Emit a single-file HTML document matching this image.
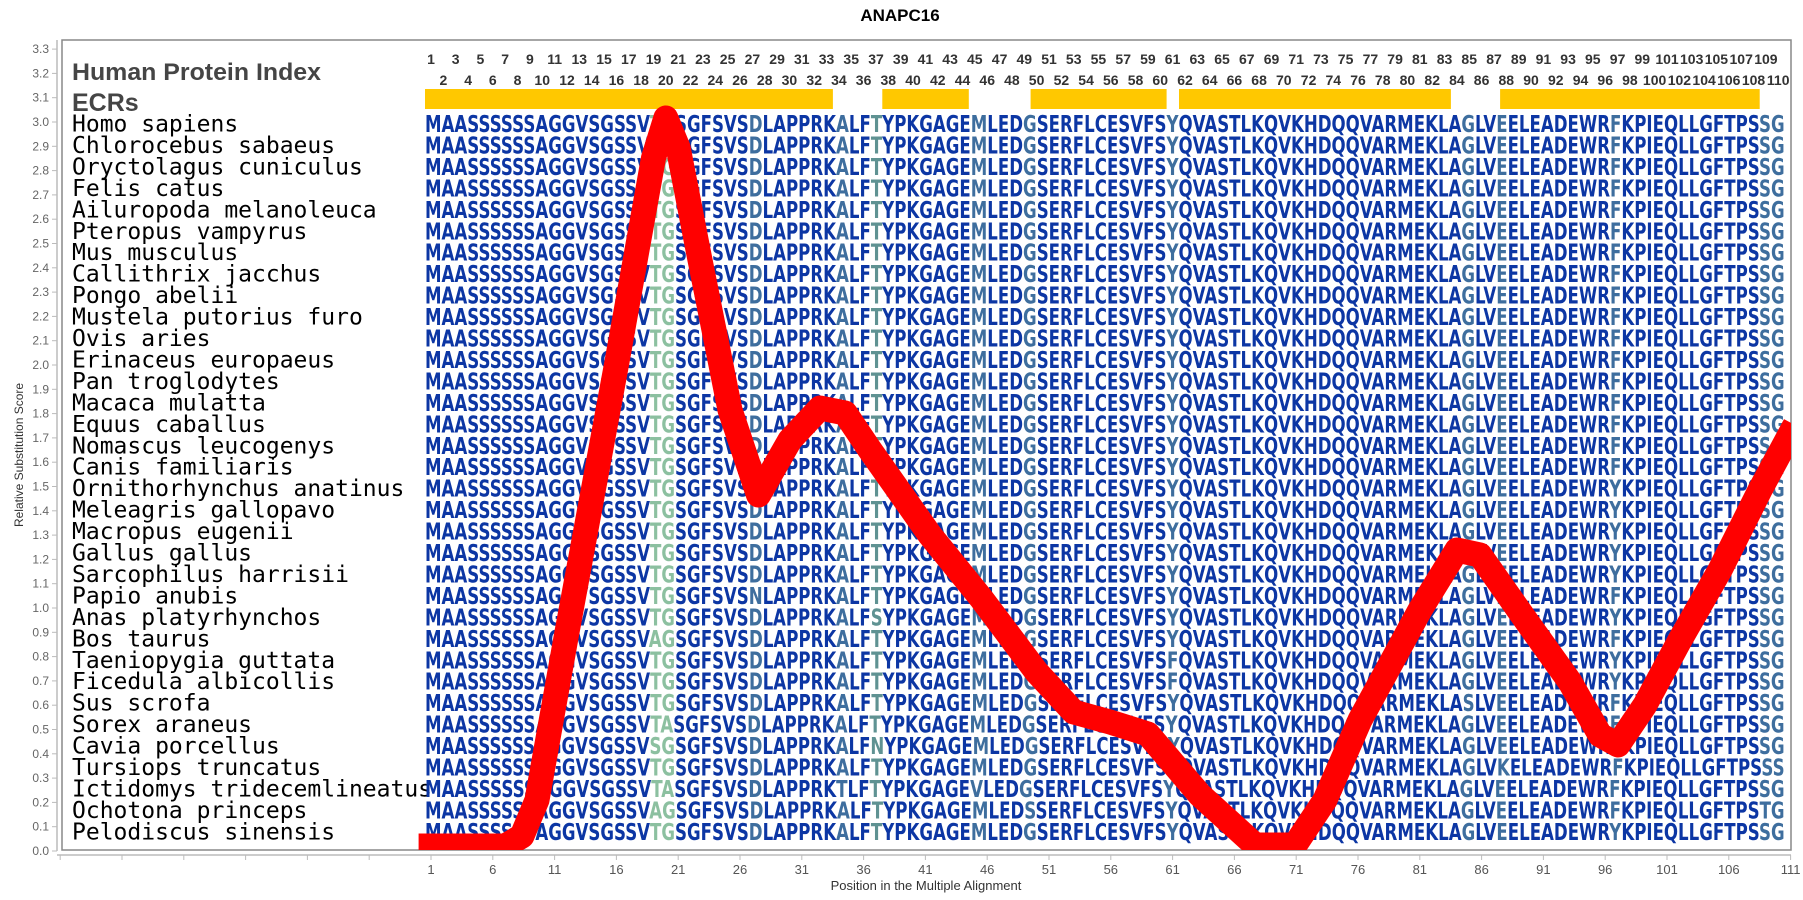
<!DOCTYPE html>
<html><head><meta charset="utf-8"><style>
html,body{margin:0;padding:0;background:#fff;}
svg{display:block;}
.sq{font-family:"DejaVu Sans","Liberation Sans",sans-serif;font-weight:bold;font-size:23px;fill:#0c36a4;}
.g{fill:#8cc0a0;} .s{fill:#3e6e9e;} .t{fill:#5f9292;}
.sp{font-family:"DejaVu Sans Mono","Liberation Mono",monospace;font-size:23px;fill:#000;}
.yl{font-family:"Liberation Sans",sans-serif;font-size:12px;fill:#666;text-anchor:end;}
.xl{font-family:"Liberation Sans",sans-serif;font-size:13px;fill:#555;text-anchor:middle;}
.nm{font-family:"Liberation Sans",sans-serif;font-size:14px;font-weight:bold;fill:#333;text-anchor:middle;}
</style></head><body>
<svg width="1803" height="900" viewBox="0 0 1803 900" xmlns="http://www.w3.org/2000/svg">
<defs><clipPath id="pc"><rect x="62" y="40" width="1729" height="810"/></clipPath></defs>
<text x="900" y="21" text-anchor="middle" font-family="Liberation Sans,sans-serif" font-weight="bold" font-size="17">ANAPC16</text>
<rect x="62" y="40" width="1729" height="810" fill="#fff" stroke="#888" stroke-width="1.5"/>
<line x1="57" y1="40" x2="57" y2="851" stroke="#bbb" stroke-width="1.5"/>
<line x1="57" y1="855" x2="1791" y2="855" stroke="#bbb" stroke-width="1.5"/>
<g stroke="#bbb" stroke-width="1">
<line x1="52" y1="851" x2="57" y2="851"/><line x1="52" y1="826.7" x2="57" y2="826.7"/><line x1="52" y1="802.4" x2="57" y2="802.4"/><line x1="52" y1="778.1" x2="57" y2="778.1"/><line x1="52" y1="753.8" x2="57" y2="753.8"/><line x1="52" y1="729.5" x2="57" y2="729.5"/><line x1="52" y1="705.2" x2="57" y2="705.2"/><line x1="52" y1="680.9" x2="57" y2="680.9"/><line x1="52" y1="656.6" x2="57" y2="656.6"/><line x1="52" y1="632.3" x2="57" y2="632.3"/><line x1="52" y1="608" x2="57" y2="608"/><line x1="52" y1="583.7" x2="57" y2="583.7"/><line x1="52" y1="559.4" x2="57" y2="559.4"/><line x1="52" y1="535.1" x2="57" y2="535.1"/><line x1="52" y1="510.8" x2="57" y2="510.8"/><line x1="52" y1="486.5" x2="57" y2="486.5"/><line x1="52" y1="462.2" x2="57" y2="462.2"/><line x1="52" y1="437.9" x2="57" y2="437.9"/><line x1="52" y1="413.6" x2="57" y2="413.6"/><line x1="52" y1="389.3" x2="57" y2="389.3"/><line x1="52" y1="365" x2="57" y2="365"/><line x1="52" y1="340.7" x2="57" y2="340.7"/><line x1="52" y1="316.4" x2="57" y2="316.4"/><line x1="52" y1="292.1" x2="57" y2="292.1"/><line x1="52" y1="267.8" x2="57" y2="267.8"/><line x1="52" y1="243.5" x2="57" y2="243.5"/><line x1="52" y1="219.2" x2="57" y2="219.2"/><line x1="52" y1="194.9" x2="57" y2="194.9"/><line x1="52" y1="170.6" x2="57" y2="170.6"/><line x1="52" y1="146.3" x2="57" y2="146.3"/><line x1="52" y1="122" x2="57" y2="122"/><line x1="52" y1="97.7" x2="57" y2="97.7"/><line x1="52" y1="73.4" x2="57" y2="73.4"/><line x1="52" y1="49.1" x2="57" y2="49.1"/>
</g>
<g class="yl">
<text x="49" y="855">0.0</text><text x="49" y="830.7">0.1</text><text x="49" y="806.4">0.2</text><text x="49" y="782.1">0.3</text><text x="49" y="757.8">0.4</text><text x="49" y="733.5">0.5</text><text x="49" y="709.2">0.6</text><text x="49" y="684.9">0.7</text><text x="49" y="660.6">0.8</text><text x="49" y="636.3">0.9</text><text x="49" y="612">1.0</text><text x="49" y="587.7">1.1</text><text x="49" y="563.4">1.2</text><text x="49" y="539.1">1.3</text><text x="49" y="514.8">1.4</text><text x="49" y="490.5">1.5</text><text x="49" y="466.2">1.6</text><text x="49" y="441.9">1.7</text><text x="49" y="417.6">1.8</text><text x="49" y="393.3">1.9</text><text x="49" y="369">2.0</text><text x="49" y="344.7">2.1</text><text x="49" y="320.4">2.2</text><text x="49" y="296.1">2.3</text><text x="49" y="271.8">2.4</text><text x="49" y="247.5">2.5</text><text x="49" y="223.2">2.6</text><text x="49" y="198.9">2.7</text><text x="49" y="174.6">2.8</text><text x="49" y="150.3">2.9</text><text x="49" y="126">3.0</text><text x="49" y="101.7">3.1</text><text x="49" y="77.4">3.2</text><text x="49" y="53.1">3.3</text>
</g>
<g stroke="#bbb" stroke-width="1">
<line x1="60.2" y1="855" x2="60.2" y2="860"/><line x1="122" y1="855" x2="122" y2="860"/><line x1="183.8" y1="855" x2="183.8" y2="860"/><line x1="245.6" y1="855" x2="245.6" y2="860"/><line x1="307.4" y1="855" x2="307.4" y2="860"/><line x1="369.2" y1="855" x2="369.2" y2="860"/><line x1="431" y1="855" x2="431" y2="860"/><line x1="492.8" y1="855" x2="492.8" y2="860"/><line x1="554.6" y1="855" x2="554.6" y2="860"/><line x1="616.4" y1="855" x2="616.4" y2="860"/><line x1="678.2" y1="855" x2="678.2" y2="860"/><line x1="740" y1="855" x2="740" y2="860"/><line x1="801.8" y1="855" x2="801.8" y2="860"/><line x1="863.6" y1="855" x2="863.6" y2="860"/><line x1="925.4" y1="855" x2="925.4" y2="860"/><line x1="987.2" y1="855" x2="987.2" y2="860"/><line x1="1049" y1="855" x2="1049" y2="860"/><line x1="1110.8" y1="855" x2="1110.8" y2="860"/><line x1="1172.6" y1="855" x2="1172.6" y2="860"/><line x1="1234.4" y1="855" x2="1234.4" y2="860"/><line x1="1296.2" y1="855" x2="1296.2" y2="860"/><line x1="1358" y1="855" x2="1358" y2="860"/><line x1="1419.8" y1="855" x2="1419.8" y2="860"/><line x1="1481.6" y1="855" x2="1481.6" y2="860"/><line x1="1543.4" y1="855" x2="1543.4" y2="860"/><line x1="1605.2" y1="855" x2="1605.2" y2="860"/><line x1="1667" y1="855" x2="1667" y2="860"/><line x1="1728.8" y1="855" x2="1728.8" y2="860"/><line x1="1790.6" y1="855" x2="1790.6" y2="860"/>
</g>
<g class="xl">
<text x="431" y="874">1</text><text x="492.8" y="874">6</text><text x="554.6" y="874">11</text><text x="616.4" y="874">16</text><text x="678.2" y="874">21</text><text x="740" y="874">26</text><text x="801.8" y="874">31</text><text x="863.6" y="874">36</text><text x="925.4" y="874">41</text><text x="987.2" y="874">46</text><text x="1049" y="874">51</text><text x="1110.8" y="874">56</text><text x="1172.6" y="874">61</text><text x="1234.4" y="874">66</text><text x="1296.2" y="874">71</text><text x="1358" y="874">76</text><text x="1419.8" y="874">81</text><text x="1481.6" y="874">86</text><text x="1543.4" y="874">91</text><text x="1605.2" y="874">96</text><text x="1667" y="874">101</text><text x="1728.8" y="874">106</text><text x="1790.6" y="874">111</text>
</g>
<text x="926" y="890" class="xl" style="fill:#333">Position in the Multiple Alignment</text>
<text transform="translate(23,455) rotate(-90)" text-anchor="middle" font-family="Liberation Sans,sans-serif" font-size="12" fill="#333">Relative Substitution Score</text>

<text x="72" y="80" font-family="Liberation Sans,sans-serif" font-weight="bold" font-size="24" fill="#454545" textLength="249" lengthAdjust="spacingAndGlyphs">Human Protein Index</text>
<text x="72" y="111" font-family="Liberation Sans,sans-serif" font-weight="bold" font-size="25" fill="#454545">ECRs</text>

<g fill="#ffc800">
<rect x="425" y="89" width="407.9" height="20"/>
<rect x="882.3" y="89" width="86.5" height="20"/>
<rect x="1030.6" y="89" width="136" height="20"/>
<rect x="1179" y="89" width="271.9" height="20"/>
<rect x="1500.1" y="89" width="259.6" height="20"/>
</g>

<g class="nm">
<text x="431" y="64">1</text><text x="455.7" y="64">3</text><text x="480.4" y="64">5</text><text x="505.2" y="64">7</text><text x="529.9" y="64">9</text><text x="554.6" y="64">11</text><text x="579.3" y="64">13</text><text x="604" y="64">15</text><text x="628.8" y="64">17</text><text x="653.5" y="64">19</text><text x="678.2" y="64">21</text><text x="702.9" y="64">23</text><text x="727.6" y="64">25</text><text x="752.4" y="64">27</text><text x="777.1" y="64">29</text><text x="801.8" y="64">31</text><text x="826.5" y="64">33</text><text x="851.2" y="64">35</text><text x="876" y="64">37</text><text x="900.7" y="64">39</text><text x="925.4" y="64">41</text><text x="950.1" y="64">43</text><text x="974.8" y="64">45</text><text x="999.6" y="64">47</text><text x="1024.3" y="64">49</text><text x="1049" y="64">51</text><text x="1073.7" y="64">53</text><text x="1098.4" y="64">55</text><text x="1123.2" y="64">57</text><text x="1147.9" y="64">59</text><text x="1172.6" y="64">61</text><text x="1197.3" y="64">63</text><text x="1222" y="64">65</text><text x="1246.8" y="64">67</text><text x="1271.5" y="64">69</text><text x="1296.2" y="64">71</text><text x="1320.9" y="64">73</text><text x="1345.6" y="64">75</text><text x="1370.4" y="64">77</text><text x="1395.1" y="64">79</text><text x="1419.8" y="64">81</text><text x="1444.5" y="64">83</text><text x="1469.2" y="64">85</text><text x="1494" y="64">87</text><text x="1518.7" y="64">89</text><text x="1543.4" y="64">91</text><text x="1568.1" y="64">93</text><text x="1592.8" y="64">95</text><text x="1617.6" y="64">97</text><text x="1642.3" y="64">99</text><text x="1667" y="64">101</text><text x="1691.7" y="64">103</text><text x="1716.4" y="64">105</text><text x="1741.2" y="64">107</text><text x="1765.9" y="64">109</text>
<text x="443.4" y="85">2</text><text x="468.1" y="85">4</text><text x="492.8" y="85">6</text><text x="517.5" y="85">8</text><text x="542.2" y="85">10</text><text x="567" y="85">12</text><text x="591.7" y="85">14</text><text x="616.4" y="85">16</text><text x="641.1" y="85">18</text><text x="665.8" y="85">20</text><text x="690.6" y="85">22</text><text x="715.3" y="85">24</text><text x="740" y="85">26</text><text x="764.7" y="85">28</text><text x="789.4" y="85">30</text><text x="814.2" y="85">32</text><text x="838.9" y="85">34</text><text x="863.6" y="85">36</text><text x="888.3" y="85">38</text><text x="913" y="85">40</text><text x="937.8" y="85">42</text><text x="962.5" y="85">44</text><text x="987.2" y="85">46</text><text x="1011.9" y="85">48</text><text x="1036.6" y="85">50</text><text x="1061.4" y="85">52</text><text x="1086.1" y="85">54</text><text x="1110.8" y="85">56</text><text x="1135.5" y="85">58</text><text x="1160.2" y="85">60</text><text x="1185" y="85">62</text><text x="1209.7" y="85">64</text><text x="1234.4" y="85">66</text><text x="1259.1" y="85">68</text><text x="1283.8" y="85">70</text><text x="1308.6" y="85">72</text><text x="1333.3" y="85">74</text><text x="1358" y="85">76</text><text x="1382.7" y="85">78</text><text x="1407.4" y="85">80</text><text x="1432.2" y="85">82</text><text x="1456.9" y="85">84</text><text x="1481.6" y="85">86</text><text x="1506.3" y="85">88</text><text x="1531" y="85">90</text><text x="1555.8" y="85">92</text><text x="1580.5" y="85">94</text><text x="1605.2" y="85">96</text><text x="1629.9" y="85">98</text><text x="1654.6" y="85">100</text><text x="1679.4" y="85">102</text><text x="1704.1" y="85">104</text><text x="1728.8" y="85">106</text><text x="1753.5" y="85">108</text><text x="1778.2" y="85">110</text>
</g>

<g class="sp">
<text x="72" y="131.5">Homo sapiens</text>
<text x="72" y="153">Chlorocebus sabaeus</text>
<text x="72" y="174.4">Oryctolagus cuniculus</text>
<text x="72" y="195.9">Felis catus</text>
<text x="72" y="217.3">Ailuropoda melanoleuca</text>
<text x="72" y="238.8">Pteropus vampyrus</text>
<text x="72" y="260.2">Mus musculus</text>
<text x="72" y="281.7">Callithrix jacchus</text>
<text x="72" y="303.1">Pongo abelii</text>
<text x="72" y="324.6">Mustela putorius furo</text>
<text x="72" y="346">Ovis aries</text>
<text x="72" y="367.5">Erinaceus europaeus</text>
<text x="72" y="388.9">Pan troglodytes</text>
<text x="72" y="410.4">Macaca mulatta</text>
<text x="72" y="431.8">Equus caballus</text>
<text x="72" y="453.3">Nomascus leucogenys</text>
<text x="72" y="474.7">Canis familiaris</text>
<text x="72" y="496.2">Ornithorhynchus anatinus</text>
<text x="72" y="517.6">Meleagris gallopavo</text>
<text x="72" y="539.1">Macropus eugenii</text>
<text x="72" y="560.5">Gallus gallus</text>
<text x="72" y="582">Sarcophilus harrisii</text>
<text x="72" y="603.4">Papio anubis</text>
<text x="72" y="624.9">Anas platyrhynchos</text>
<text x="72" y="646.3">Bos taurus</text>
<text x="72" y="667.8">Taeniopygia guttata</text>
<text x="72" y="689.2">Ficedula albicollis</text>
<text x="72" y="710.7">Sus scrofa</text>
<text x="72" y="732.1">Sorex araneus</text>
<text x="72" y="753.6">Cavia porcellus</text>
<text x="72" y="775">Tursiops truncatus</text>
<text x="72" y="796.5">Ictidomys tridecemlineatus</text>
<text x="72" y="817.9">Ochotona princeps</text>
<text x="72" y="839.4">Pelodiscus sinensis</text>
</g>

<g class="sq">
<text x="425" y="132" textLength="1359.6" lengthAdjust="spacingAndGlyphs">MAASSSSSSAGGVSGSSV<tspan class="g">TG</tspan>SGFSVS<tspan class="s">D</tspan>LAPPRK<tspan class="s">A</tspan>LF<tspan class="t">T</tspan>YPKGAGE<tspan class="s">M</tspan>LED<tspan class="s">G</tspan>SERFLCESVFS<tspan class="s">Y</tspan>QVASTLKQVKHDQQVARMEKLA<tspan class="s">G</tspan>LV<tspan class="s">E</tspan>ELEADEWR<tspan class="s">F</tspan>KPIEQLLGFTPS<tspan class="s">SG</tspan></text>
<text x="425" y="153.5" textLength="1359.6" lengthAdjust="spacingAndGlyphs">MAASSSSSSAGGVSGSSV<tspan class="g">TG</tspan>SGFSVS<tspan class="s">D</tspan>LAPPRK<tspan class="s">A</tspan>LF<tspan class="t">T</tspan>YPKGAGE<tspan class="s">M</tspan>LED<tspan class="s">G</tspan>SERFLCESVFS<tspan class="s">Y</tspan>QVASTLKQVKHDQQVARMEKLA<tspan class="s">G</tspan>LV<tspan class="s">E</tspan>ELEADEWR<tspan class="s">F</tspan>KPIEQLLGFTPS<tspan class="s">SG</tspan></text>
<text x="425" y="174.9" textLength="1359.6" lengthAdjust="spacingAndGlyphs">MAASSSSSSAGGVSGSSV<tspan class="g">TG</tspan>SGFSVS<tspan class="s">D</tspan>LAPPRK<tspan class="s">A</tspan>LF<tspan class="t">T</tspan>YPKGAGE<tspan class="s">M</tspan>LED<tspan class="s">G</tspan>SERFLCESVFS<tspan class="s">Y</tspan>QVASTLKQVKHDQQVARMEKLA<tspan class="s">G</tspan>LV<tspan class="s">E</tspan>ELEADEWR<tspan class="s">F</tspan>KPIEQLLGFTPS<tspan class="s">SG</tspan></text>
<text x="425" y="196.4" textLength="1359.6" lengthAdjust="spacingAndGlyphs">MAASSSSSSAGGVSGSSV<tspan class="g">TG</tspan>SGFSVS<tspan class="s">D</tspan>LAPPRK<tspan class="s">A</tspan>LF<tspan class="t">T</tspan>YPKGAGE<tspan class="s">M</tspan>LED<tspan class="s">G</tspan>SERFLCESVFS<tspan class="s">Y</tspan>QVASTLKQVKHDQQVARMEKLA<tspan class="s">G</tspan>LV<tspan class="s">E</tspan>ELEADEWR<tspan class="s">F</tspan>KPIEQLLGFTPS<tspan class="s">SG</tspan></text>
<text x="425" y="217.8" textLength="1359.6" lengthAdjust="spacingAndGlyphs">MAASSSSSSAGGVSGSSV<tspan class="g">TG</tspan>SGFSVS<tspan class="s">D</tspan>LAPPRK<tspan class="s">A</tspan>LF<tspan class="t">T</tspan>YPKGAGE<tspan class="s">M</tspan>LED<tspan class="s">G</tspan>SERFLCESVFS<tspan class="s">Y</tspan>QVASTLKQVKHDQQVARMEKLA<tspan class="s">G</tspan>LV<tspan class="s">E</tspan>ELEADEWR<tspan class="s">F</tspan>KPIEQLLGFTPS<tspan class="s">SG</tspan></text>
<text x="425" y="239.3" textLength="1359.6" lengthAdjust="spacingAndGlyphs">MAASSSSSSAGGVSGSSV<tspan class="g">TG</tspan>SGFSVS<tspan class="s">D</tspan>LAPPRK<tspan class="s">A</tspan>LF<tspan class="t">T</tspan>YPKGAGE<tspan class="s">M</tspan>LED<tspan class="s">G</tspan>SERFLCESVFS<tspan class="s">Y</tspan>QVASTLKQVKHDQQVARMEKLA<tspan class="s">G</tspan>LV<tspan class="s">E</tspan>ELEADEWR<tspan class="s">F</tspan>KPIEQLLGFTPS<tspan class="s">SG</tspan></text>
<text x="425" y="260.7" textLength="1359.6" lengthAdjust="spacingAndGlyphs">MAASSSSSSAGGVSGSSV<tspan class="g">TG</tspan>SGFSVS<tspan class="s">D</tspan>LAPPRK<tspan class="s">A</tspan>LF<tspan class="t">T</tspan>YPKGAGE<tspan class="s">M</tspan>LED<tspan class="s">G</tspan>SERFLCESVFS<tspan class="s">Y</tspan>QVASTLKQVKHDQQVARMEKLA<tspan class="s">G</tspan>LV<tspan class="s">E</tspan>ELEADEWR<tspan class="s">F</tspan>KPIEQLLGFTPS<tspan class="s">SG</tspan></text>
<text x="425" y="282.2" textLength="1359.6" lengthAdjust="spacingAndGlyphs">MAASSSSSSAGGVSGSSV<tspan class="g">TG</tspan>SGFSVS<tspan class="s">D</tspan>LAPPRK<tspan class="s">A</tspan>LF<tspan class="t">T</tspan>YPKGAGE<tspan class="s">M</tspan>LED<tspan class="s">G</tspan>SERFLCESVFS<tspan class="s">Y</tspan>QVASTLKQVKHDQQVARMEKLA<tspan class="s">G</tspan>LV<tspan class="s">E</tspan>ELEADEWR<tspan class="s">F</tspan>KPIEQLLGFTPS<tspan class="s">SG</tspan></text>
<text x="425" y="303.6" textLength="1359.6" lengthAdjust="spacingAndGlyphs">MAASSSSSSAGGVSGSSV<tspan class="g">TG</tspan>SGFSVS<tspan class="s">D</tspan>LAPPRK<tspan class="s">A</tspan>LF<tspan class="t">T</tspan>YPKGAGE<tspan class="s">M</tspan>LED<tspan class="s">G</tspan>SERFLCESVFS<tspan class="s">Y</tspan>QVASTLKQVKHDQQVARMEKLA<tspan class="s">G</tspan>LV<tspan class="s">E</tspan>ELEADEWR<tspan class="s">F</tspan>KPIEQLLGFTPS<tspan class="s">SG</tspan></text>
<text x="425" y="325.1" textLength="1359.6" lengthAdjust="spacingAndGlyphs">MAASSSSSSAGGVSGSSV<tspan class="g">TG</tspan>SGFSVS<tspan class="s">D</tspan>LAPPRK<tspan class="s">A</tspan>LF<tspan class="t">T</tspan>YPKGAGE<tspan class="s">M</tspan>LED<tspan class="s">G</tspan>SERFLCESVFS<tspan class="s">Y</tspan>QVASTLKQVKHDQQVARMEKLA<tspan class="s">G</tspan>LV<tspan class="s">E</tspan>ELEADEWR<tspan class="s">F</tspan>KPIEQLLGFTPS<tspan class="s">SG</tspan></text>
<text x="425" y="346.5" textLength="1359.6" lengthAdjust="spacingAndGlyphs">MAASSSSSSAGGVSGSSV<tspan class="g">TG</tspan>SGFSVS<tspan class="s">D</tspan>LAPPRK<tspan class="s">A</tspan>LF<tspan class="t">T</tspan>YPKGAGE<tspan class="s">M</tspan>LED<tspan class="s">G</tspan>SERFLCESVFS<tspan class="s">Y</tspan>QVASTLKQVKHDQQVARMEKLA<tspan class="s">G</tspan>LV<tspan class="s">E</tspan>ELEADEWR<tspan class="s">F</tspan>KPIEQLLGFTPS<tspan class="s">SG</tspan></text>
<text x="425" y="368" textLength="1359.6" lengthAdjust="spacingAndGlyphs">MAASSSSSSAGGVSGSSV<tspan class="g">TG</tspan>SGFSVS<tspan class="s">D</tspan>LAPPRK<tspan class="s">A</tspan>LF<tspan class="t">T</tspan>YPKGAGE<tspan class="s">M</tspan>LED<tspan class="s">G</tspan>SERFLCESVFS<tspan class="s">Y</tspan>QVASTLKQVKHDQQVARMEKLA<tspan class="s">G</tspan>LV<tspan class="s">E</tspan>ELEADEWR<tspan class="s">F</tspan>KPIEQLLGFTPS<tspan class="s">SG</tspan></text>
<text x="425" y="389.4" textLength="1359.6" lengthAdjust="spacingAndGlyphs">MAASSSSSSAGGVSGSSV<tspan class="g">TG</tspan>SGFSVS<tspan class="s">D</tspan>LAPPRK<tspan class="s">A</tspan>LF<tspan class="t">T</tspan>YPKGAGE<tspan class="s">M</tspan>LED<tspan class="s">G</tspan>SERFLCESVFS<tspan class="s">Y</tspan>QVASTLKQVKHDQQVARMEKLA<tspan class="s">G</tspan>LV<tspan class="s">E</tspan>ELEADEWR<tspan class="s">F</tspan>KPIEQLLGFTPS<tspan class="s">SG</tspan></text>
<text x="425" y="410.9" textLength="1359.6" lengthAdjust="spacingAndGlyphs">MAASSSSSSAGGVSGSSV<tspan class="g">TG</tspan>SGFSVS<tspan class="s">D</tspan>LAPPRK<tspan class="s">A</tspan>LF<tspan class="t">T</tspan>YPKGAGE<tspan class="s">M</tspan>LED<tspan class="s">G</tspan>SERFLCESVFS<tspan class="s">Y</tspan>QVASTLKQVKHDQQVARMEKLA<tspan class="s">G</tspan>LV<tspan class="s">E</tspan>ELEADEWR<tspan class="s">F</tspan>KPIEQLLGFTPS<tspan class="s">SG</tspan></text>
<text x="425" y="432.3" textLength="1359.6" lengthAdjust="spacingAndGlyphs">MAASSSSSSAGGVSGSSV<tspan class="g">TG</tspan>SGFSVS<tspan class="s">D</tspan>LAPPRK<tspan class="s">A</tspan>LF<tspan class="t">T</tspan>YPKGAGE<tspan class="s">M</tspan>LED<tspan class="s">G</tspan>SERFLCESVFS<tspan class="s">Y</tspan>QVASTLKQVKHDQQVARMEKLA<tspan class="s">G</tspan>LV<tspan class="s">E</tspan>ELEADEWR<tspan class="s">F</tspan>KPIEQLLGFTPS<tspan class="s">SG</tspan></text>
<text x="425" y="453.8" textLength="1359.6" lengthAdjust="spacingAndGlyphs">MAASSSSSSAGGVSGSSV<tspan class="g">TG</tspan>SGFSVS<tspan class="s">D</tspan>LAPPRK<tspan class="s">A</tspan>LF<tspan class="t">T</tspan>YPKGAGE<tspan class="s">M</tspan>LED<tspan class="s">G</tspan>SERFLCESVFS<tspan class="s">Y</tspan>QVASTLKQVKHDQQVARMEKLA<tspan class="s">G</tspan>LV<tspan class="s">E</tspan>ELEADEWR<tspan class="s">F</tspan>KPIEQLLGFTPS<tspan class="s">SG</tspan></text>
<text x="425" y="475.2" textLength="1359.6" lengthAdjust="spacingAndGlyphs">MAASSSSSSAGGVSGSSV<tspan class="g">TG</tspan>SGFSVS<tspan class="s">D</tspan>LAPPRK<tspan class="s">A</tspan>LF<tspan class="t">T</tspan>YPKGAGE<tspan class="s">M</tspan>LED<tspan class="s">G</tspan>SERFLCESVFS<tspan class="s">Y</tspan>QVASTLKQVKHDQQVARMEKLA<tspan class="s">G</tspan>LV<tspan class="s">E</tspan>ELEADEWR<tspan class="s">F</tspan>KPIEQLLGFTPS<tspan class="s">SG</tspan></text>
<text x="425" y="496.7" textLength="1359.6" lengthAdjust="spacingAndGlyphs">MAASSSSSSAGGVSGSSV<tspan class="g">TG</tspan>SGFSVS<tspan class="s">D</tspan>LAPPRK<tspan class="s">A</tspan>LF<tspan class="t">T</tspan>YPKGAGE<tspan class="s">M</tspan>LED<tspan class="s">G</tspan>SERFLCESVFS<tspan class="s">Y</tspan>QVASTLKQVKHDQQVARMEKLA<tspan class="s">G</tspan>LV<tspan class="s">E</tspan>ELEADEWR<tspan class="s">Y</tspan>KPIEQLLGFTPS<tspan class="s">SG</tspan></text>
<text x="425" y="518.1" textLength="1359.6" lengthAdjust="spacingAndGlyphs">MAASSSSSSAGGVSGSSV<tspan class="g">TG</tspan>SGFSVS<tspan class="s">D</tspan>LAPPRK<tspan class="s">A</tspan>LF<tspan class="t">T</tspan>YPKGAGE<tspan class="s">M</tspan>LED<tspan class="s">G</tspan>SERFLCESVFS<tspan class="s">Y</tspan>QVASTLKQVKHDQQVARMEKLA<tspan class="s">G</tspan>LV<tspan class="s">E</tspan>ELEADEWR<tspan class="s">Y</tspan>KPIEQLLGFTPS<tspan class="s">SG</tspan></text>
<text x="425" y="539.6" textLength="1359.6" lengthAdjust="spacingAndGlyphs">MAASSSSSSAGGVSGSSV<tspan class="g">TG</tspan>SGFSVS<tspan class="s">D</tspan>LAPPRK<tspan class="s">A</tspan>LF<tspan class="t">T</tspan>YPKGAGE<tspan class="s">M</tspan>LED<tspan class="s">G</tspan>SERFLCESVFS<tspan class="s">Y</tspan>QVASTLKQVKHDQQVARMEKLA<tspan class="s">G</tspan>LV<tspan class="s">E</tspan>ELEADEWR<tspan class="s">Y</tspan>KPIEQLLGFTPS<tspan class="s">SG</tspan></text>
<text x="425" y="561" textLength="1359.6" lengthAdjust="spacingAndGlyphs">MAASSSSSSAGGVSGSSV<tspan class="g">TG</tspan>SGFSVS<tspan class="s">D</tspan>LAPPRK<tspan class="s">A</tspan>LF<tspan class="t">T</tspan>YPKGAGE<tspan class="s">M</tspan>LED<tspan class="s">G</tspan>SERFLCESVFS<tspan class="s">Y</tspan>QVASTLKQVKHDQQVARMEKLA<tspan class="s">G</tspan>LV<tspan class="s">E</tspan>ELEADEWR<tspan class="s">Y</tspan>KPIEQLLGFTPS<tspan class="s">SG</tspan></text>
<text x="425" y="582.5" textLength="1359.6" lengthAdjust="spacingAndGlyphs">MAASSSSSSAGGVSGSSV<tspan class="g">TG</tspan>SGFSVS<tspan class="s">D</tspan>LAPPRK<tspan class="s">A</tspan>LF<tspan class="t">T</tspan>YPKGAGE<tspan class="s">M</tspan>LED<tspan class="s">G</tspan>SERFLCESVFS<tspan class="s">Y</tspan>QVASTLKQVKHDQQVARMEKLA<tspan class="s">G</tspan>LV<tspan class="s">E</tspan>ELEADEWR<tspan class="s">Y</tspan>KPIEQLLGFTPS<tspan class="s">SG</tspan></text>
<text x="425" y="603.9" textLength="1359.6" lengthAdjust="spacingAndGlyphs">MAASSSSSSAGGVSGSSV<tspan class="g">TG</tspan>SGFSVS<tspan class="s">N</tspan>LAPPRK<tspan class="s">A</tspan>LF<tspan class="t">T</tspan>YPKGAGE<tspan class="s">M</tspan>LED<tspan class="s">G</tspan>SERFLCESVFS<tspan class="s">Y</tspan>QVASTLKQVKHDQQVARMEKLA<tspan class="s">G</tspan>LV<tspan class="s">E</tspan>ELEADEWR<tspan class="s">F</tspan>KPIEQLLGFTPS<tspan class="s">SG</tspan></text>
<text x="425" y="625.4" textLength="1359.6" lengthAdjust="spacingAndGlyphs">MAASSSSSSAGGVSGSSV<tspan class="g">TG</tspan>SGFSVS<tspan class="s">D</tspan>LAPPRK<tspan class="s">A</tspan>LF<tspan class="t">S</tspan>YPKGAGE<tspan class="s">M</tspan>LED<tspan class="s">G</tspan>SERFLCESVFS<tspan class="s">Y</tspan>QVASTLKQVKHDQQVARMEKLA<tspan class="s">G</tspan>LV<tspan class="s">E</tspan>ELEADEWR<tspan class="s">Y</tspan>KPIEQLLGFTPS<tspan class="s">SG</tspan></text>
<text x="425" y="646.8" textLength="1359.6" lengthAdjust="spacingAndGlyphs">MAASSSSSSAGGVSGSSV<tspan class="g">AG</tspan>SGFSVS<tspan class="s">D</tspan>LAPPRK<tspan class="s">A</tspan>LF<tspan class="t">T</tspan>YPKGAGE<tspan class="s">M</tspan>LED<tspan class="s">G</tspan>SERFLCESVFS<tspan class="s">Y</tspan>QVASTLKQVKHDQQVARMEKLA<tspan class="s">G</tspan>LV<tspan class="s">E</tspan>ELEADEWR<tspan class="s">F</tspan>KPIEQLLGFTPS<tspan class="s">SG</tspan></text>
<text x="425" y="668.3" textLength="1359.6" lengthAdjust="spacingAndGlyphs">MAASSSSSSAGGVSGSSV<tspan class="g">TG</tspan>SGFSVS<tspan class="s">D</tspan>LAPPRK<tspan class="s">A</tspan>LF<tspan class="t">T</tspan>YPKGAGE<tspan class="s">M</tspan>LED<tspan class="s">G</tspan>SERFLCESVFS<tspan class="s">F</tspan>QVASTLKQVKHDQQVARMEKLA<tspan class="s">G</tspan>LV<tspan class="s">E</tspan>ELEADEWR<tspan class="s">Y</tspan>KPIEQLLGFTPS<tspan class="s">SG</tspan></text>
<text x="425" y="689.7" textLength="1359.6" lengthAdjust="spacingAndGlyphs">MAASSSSSSAGGVSGSSV<tspan class="g">TG</tspan>SGFSVS<tspan class="s">D</tspan>LAPPRK<tspan class="s">A</tspan>LF<tspan class="t">T</tspan>YPKGAGE<tspan class="s">M</tspan>LED<tspan class="s">G</tspan>SERFLCESVFS<tspan class="s">F</tspan>QVASTLKQVKHDQQVARMEKLA<tspan class="s">G</tspan>LV<tspan class="s">E</tspan>ELEADEWR<tspan class="s">Y</tspan>KPIEQLLGFTPS<tspan class="s">SG</tspan></text>
<text x="425" y="711.2" textLength="1359.6" lengthAdjust="spacingAndGlyphs">MAASSSSSSAGGVSGSSV<tspan class="g">TG</tspan>SGFSVS<tspan class="s">D</tspan>LAPPRK<tspan class="s">A</tspan>LF<tspan class="t">T</tspan>YPKGAGE<tspan class="s">M</tspan>LED<tspan class="s">G</tspan>SERFLCESVFS<tspan class="s">Y</tspan>QVASTLKQVKHDQQVARMEKLA<tspan class="s">S</tspan>LV<tspan class="s">E</tspan>ELEADEWR<tspan class="s">F</tspan>KPIEQLLGFTPS<tspan class="s">SG</tspan></text>
<text x="425" y="732.6" textLength="1359.6" lengthAdjust="spacingAndGlyphs">MAASSSSSSAGGVSGSSV<tspan class="g">TA</tspan>SGFSVS<tspan class="s">D</tspan>LAPPRK<tspan class="s">A</tspan>LF<tspan class="t">T</tspan>YPKGAGE<tspan class="s">M</tspan>LED<tspan class="s">G</tspan>SERFLCESVFS<tspan class="s">Y</tspan>QVASTLKQVKHDQQVARMEKLA<tspan class="s">G</tspan>LV<tspan class="s">E</tspan>ELEADEWR<tspan class="s">F</tspan>KPIEQLLGFTPS<tspan class="s">SG</tspan></text>
<text x="425" y="754.1" textLength="1359.6" lengthAdjust="spacingAndGlyphs">MAASSSSSSAGGVSGSSV<tspan class="g">SG</tspan>SGFSVS<tspan class="s">D</tspan>LAPPRK<tspan class="s">A</tspan>LF<tspan class="t">N</tspan>YPKGAGE<tspan class="s">M</tspan>LED<tspan class="s">G</tspan>SERFLCESVFS<tspan class="s">Y</tspan>QVASTLKQVKHDQQVARMEKLA<tspan class="s">G</tspan>LV<tspan class="s">E</tspan>ELEADEWR<tspan class="s">F</tspan>KPIEQLLGFTPS<tspan class="s">SG</tspan></text>
<text x="425" y="775.5" textLength="1359.6" lengthAdjust="spacingAndGlyphs">MAASSSSSSAGGVSGSSV<tspan class="g">TG</tspan>SGFSVS<tspan class="s">D</tspan>LAPPRK<tspan class="s">A</tspan>LF<tspan class="t">T</tspan>YPKGAGE<tspan class="s">M</tspan>LED<tspan class="s">G</tspan>SERFLCESVFS<tspan class="s">Y</tspan>QVASTLKQVKHDQQVARMEKLA<tspan class="s">G</tspan>LV<tspan class="s">K</tspan>ELEADEWR<tspan class="s">F</tspan>KPIEQLLGFTPS<tspan class="s">SS</tspan></text>
<text x="425" y="797" textLength="1359.6" lengthAdjust="spacingAndGlyphs">MAASSSSSSAGGVSGSSV<tspan class="g">TA</tspan>SGFSVS<tspan class="s">D</tspan>LAPPRK<tspan class="s">T</tspan>LF<tspan class="t">T</tspan>YPKGAGE<tspan class="s">V</tspan>LED<tspan class="s">G</tspan>SERFLCESVFS<tspan class="s">Y</tspan>QVASTLKQVKHDQQVARMEKLA<tspan class="s">G</tspan>LV<tspan class="s">E</tspan>ELEADEWR<tspan class="s">F</tspan>KPIEQLLGFTPS<tspan class="s">SG</tspan></text>
<text x="425" y="818.4" textLength="1359.6" lengthAdjust="spacingAndGlyphs">MAASSSSSSAGGVSGSSV<tspan class="g">AG</tspan>SGFSVS<tspan class="s">D</tspan>LAPPRK<tspan class="s">A</tspan>LF<tspan class="t">T</tspan>YPKGAGE<tspan class="s">M</tspan>LED<tspan class="s">S</tspan>SERFLCESVFS<tspan class="s">Y</tspan>QVASTLKQVKHDQQVARMEKLA<tspan class="s">G</tspan>LV<tspan class="s">E</tspan>ELEADEWR<tspan class="s">F</tspan>KPIEQLLGFTPS<tspan class="s">TG</tspan></text>
<text x="425" y="839.9" textLength="1359.6" lengthAdjust="spacingAndGlyphs">MAASSSSSSAGGVSGSSV<tspan class="g">TG</tspan>SGFSVS<tspan class="s">D</tspan>LAPPRK<tspan class="s">A</tspan>LF<tspan class="t">T</tspan>YPKGAGE<tspan class="s">M</tspan>LED<tspan class="s">G</tspan>SERFLCESVFS<tspan class="s">Y</tspan>QVASTLKQVKHDQQVARMEKLA<tspan class="s">G</tspan>LV<tspan class="s">E</tspan>ELEADEWR<tspan class="s">Y</tspan>KPIEQLLGFTPS<tspan class="s">SG</tspan></text>
</g>

<g clip-path="url(#pc)">
<polyline fill="none" stroke="#ff0000" stroke-width="25" stroke-linejoin="round" stroke-linecap="butt"
points="418.6,846 505.2,846 522,836 537,800 567,632 616.4,365 653.5,158 665.8,118 678.2,148 700,260 730,410 758.5,495 790,440 820,408 845.1,413 870,450 930,535 981,598 1036.6,672 1073.7,712 1110,722 1147.9,734 1200,795 1255,845 1295,845 1325,800 1360,720 1420,610 1456.9,550 1480,555 1520,612 1570,682 1600,735 1618,745 1645,705 1680,640 1720,570 1760,490 1795,425"/>
</g>
</svg>
</body></html>
